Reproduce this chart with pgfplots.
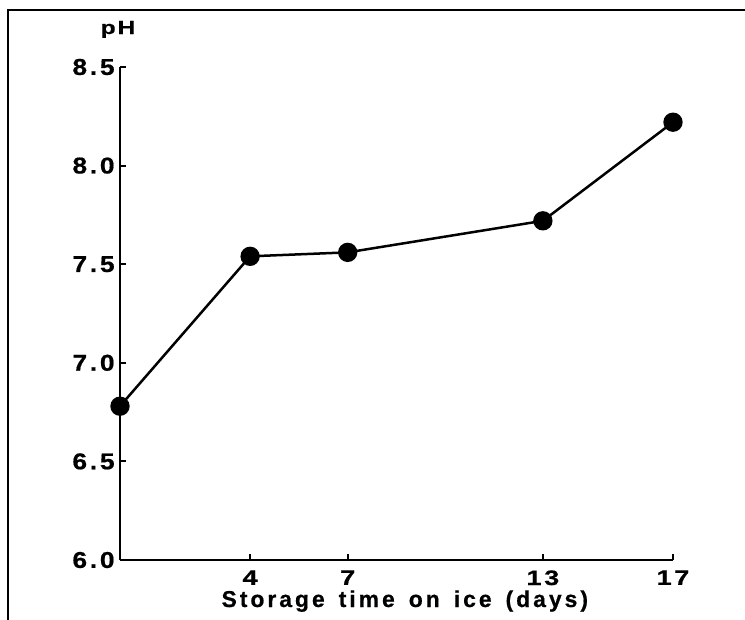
\documentclass[border=0pt]{standalone}
\usepackage{fontspec}
\setmainfont{Liberation Sans}
\newfontfamily\tickfont{Liberation Sans}[FakeStretch=1.15,LetterSpace=12,FakeBold=0.6]
\newfontfamily\xtickfont{Liberation Sans}[FakeStretch=1.3,LetterSpace=12,FakeBold=0.6]
\newfontfamily\labfont{Liberation Sans}[LetterSpace=13,WordSpace=1.5,FakeBold=0.6]
\newfontfamily\phfont{Liberation Sans}[FakeStretch=1.3,LetterSpace=10,FakeBold=0.6]
\usepackage{pgfplots}
\pgfplotsset{compat=1.18}
\begin{document}
\begin{tikzpicture}[x=1bp,y=1bp]
\useasboundingbox (-60,-30) rectangle (312.5,280);
\draw[line width=1bp] (-56,-30) -- (-56,275) -- (312.5,275);
\begin{axis}[
  at={(0,0)}, anchor=south west,
  scale only axis, width=276.5bp, height=246.5bp,
  xmin=0, xmax=17, ymin=6, ymax=8.5,
  clip=false,
  axis x line*=bottom, axis y line*=left,
  axis line style={line width=1.4bp, black},
  xtick={4,7,13,17},
  ytick={6,6.5,7,7.5,8,8.5},
  tick align=inside, major tick length=3bp,
  tick style={line width=1bp, black},
  /pgf/number format/assume math mode=true,
  yticklabel style={/pgf/number format/.cd, fixed, fixed zerofill, precision=1, /tikz/.cd,
     font=\fontsize{11.5}{12}\tickfont\bfseries, inner xsep=0pt, xshift=-2.5bp},
  xticklabel style={font=\fontsize{10.5}{11}\xtickfont\bfseries, inner ysep=0pt, yshift=-5bp},
  xlabel={Storage time on ice (days)},
  xlabel style={font=\fontsize{11.5}{13}\labfont\bfseries, at={(axis description cs:0.515,0)}, anchor=base, yshift=-23.5bp},
]
\addplot[black, line width=1.25bp, mark=*, mark size=4.2bp, mark options={fill=black}]
  coordinates {(0,6.78) (4,7.54) (7,7.56) (13,7.72) (17,8.22)};
\node[font=\fontsize{9.5}{10}\phfont\bfseries, anchor=base, xshift=-1bp, yshift=16.5bp] at (rel axis cs:0,1) {pH};
\end{axis}
\end{tikzpicture}
\end{document}
